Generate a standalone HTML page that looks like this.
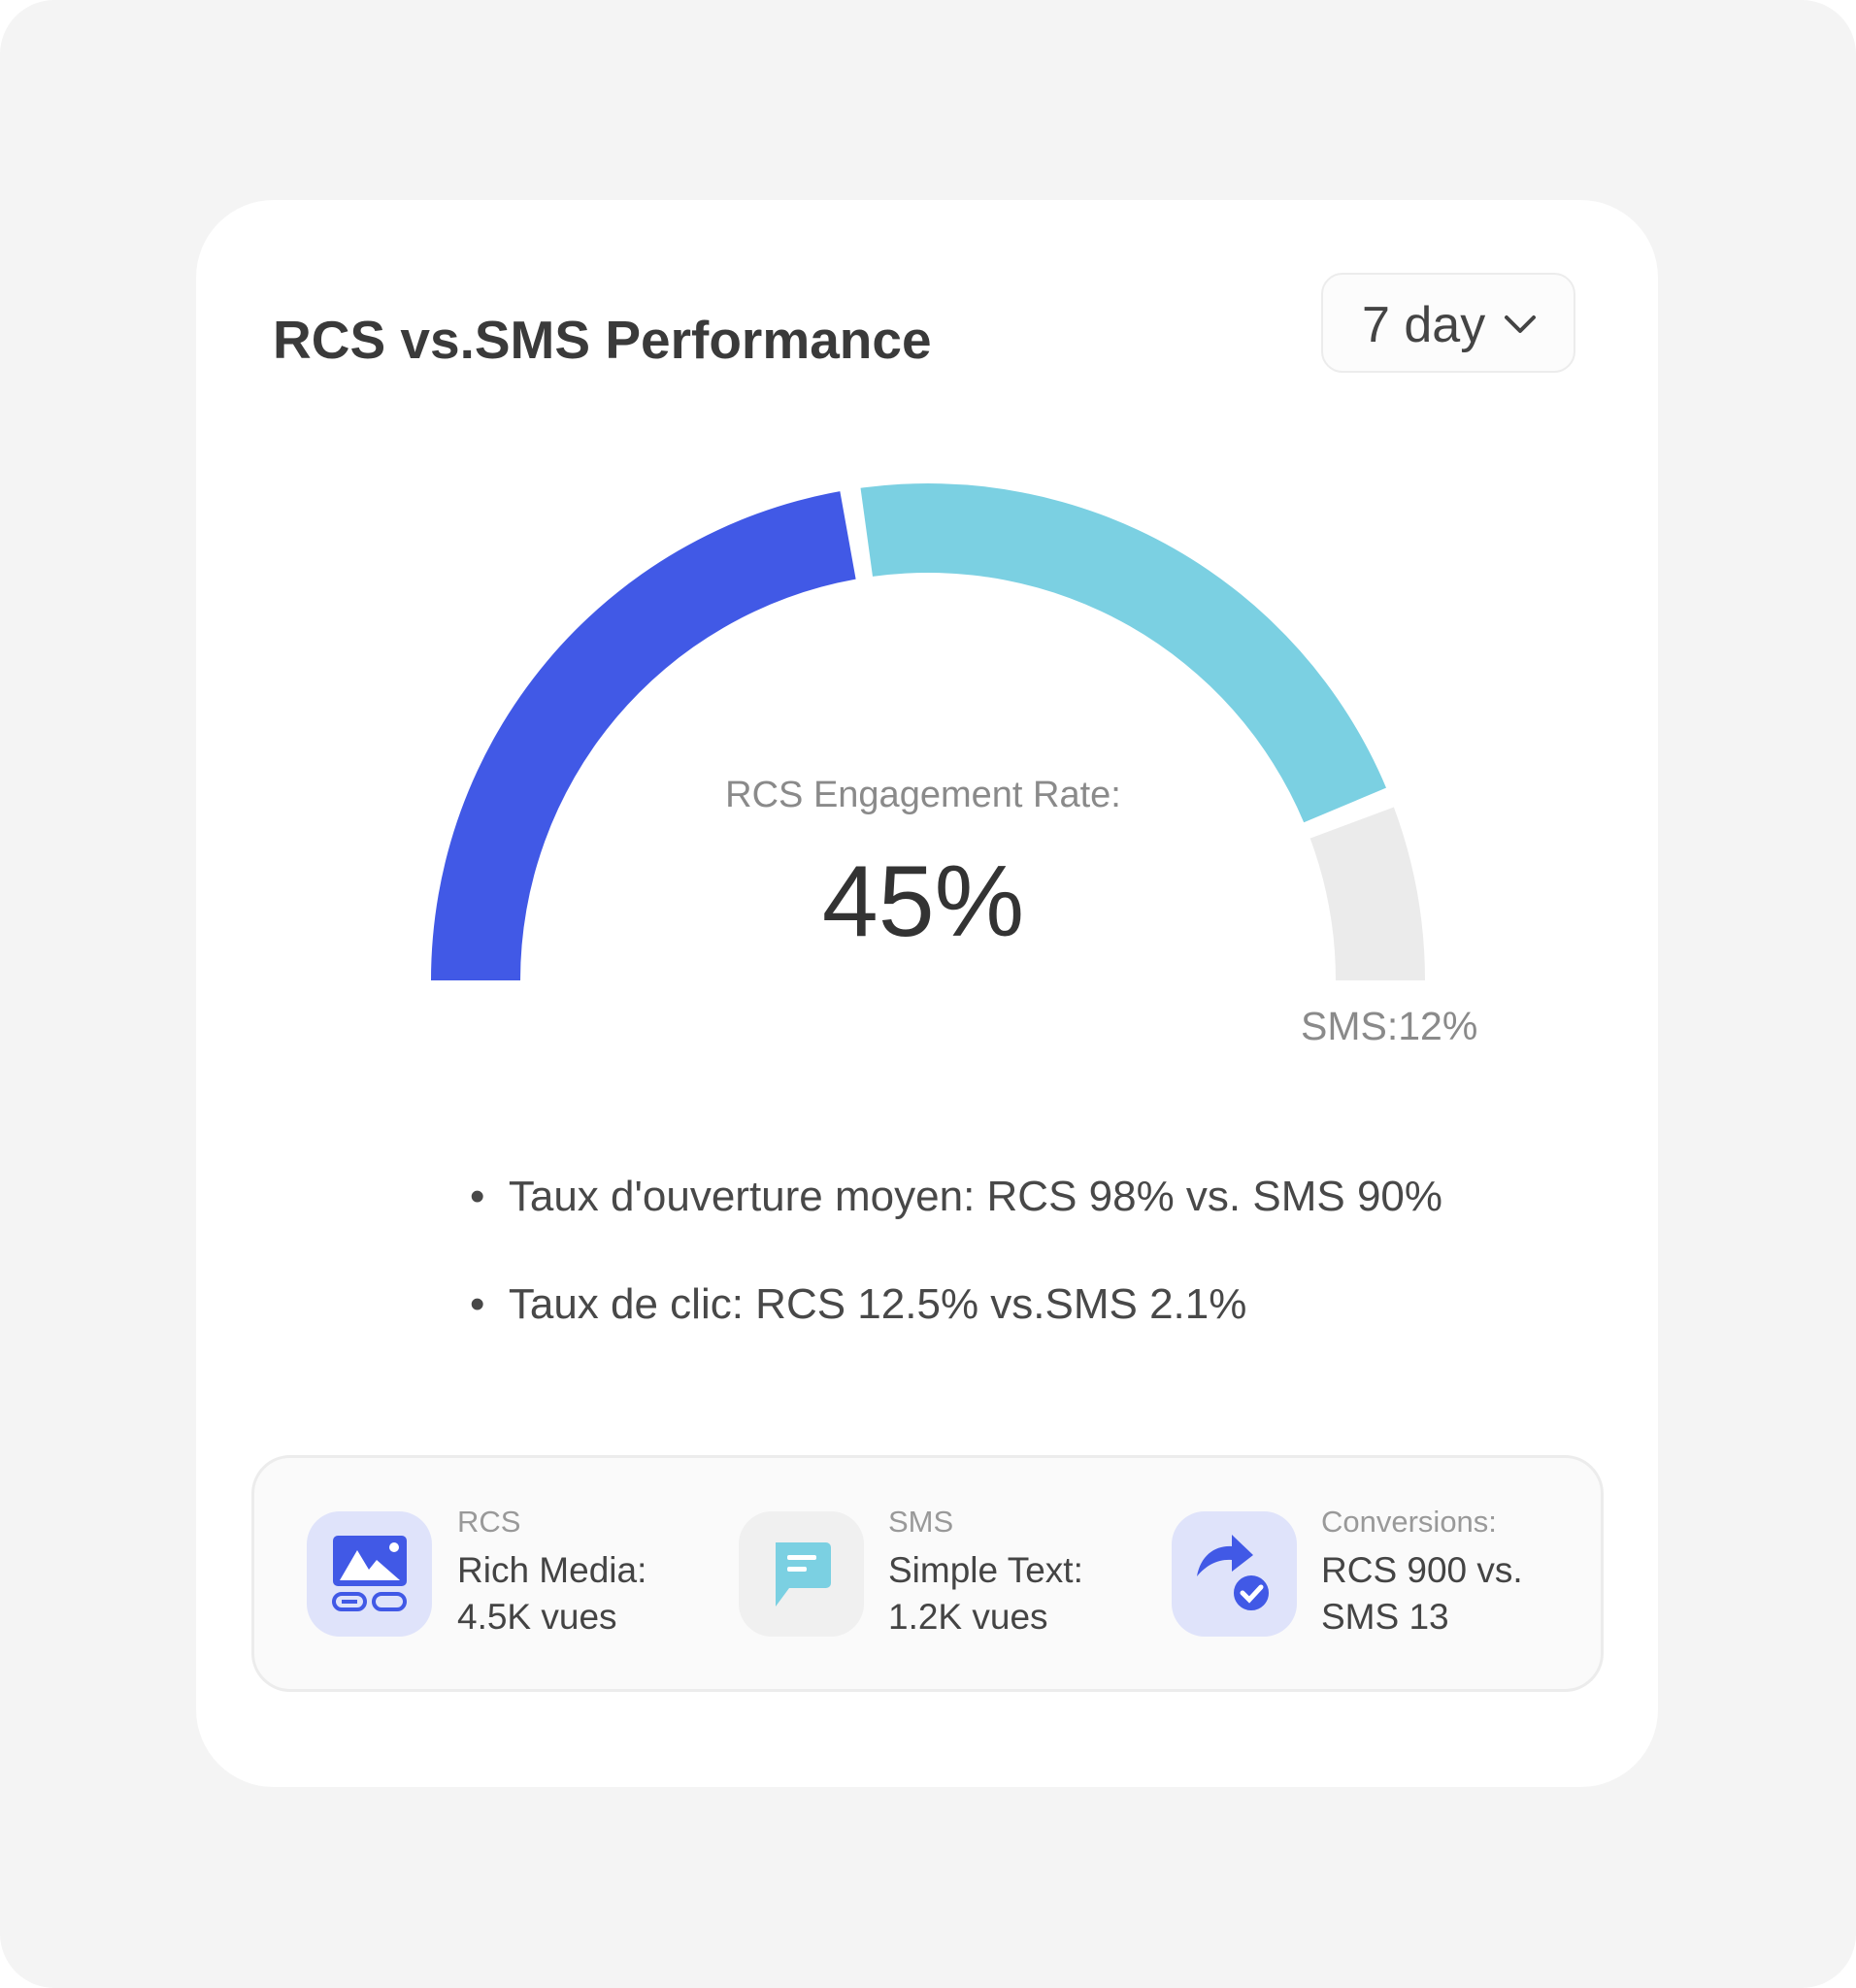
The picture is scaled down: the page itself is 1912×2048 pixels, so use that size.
<!DOCTYPE html>
<html><head><meta charset="utf-8"><style>
html,body{margin:0;padding:0;background:#fff;}
body{width:1912px;height:2048px;position:relative;overflow:hidden;font-family:"Liberation Sans",sans-serif;}
.bg{position:absolute;left:0;top:0;width:1912px;height:2048px;background:#f4f4f4;border-radius:56px;}
.card{position:absolute;left:202px;top:206px;width:1506px;height:1635px;background:#fff;border-radius:80px;}
.abs{position:absolute;white-space:nowrap;}
.title{left:281px;top:318px;font-size:55px;font-weight:bold;color:#3a3a3a;}
.dd{left:1361px;top:281px;width:262px;height:103px;box-sizing:border-box;border:2px solid #ececec;border-radius:22px;background:#fcfcfc;}
.dd span{position:absolute;left:40px;top:22px;font-size:52px;color:#444;}
.bul{font-size:44px;color:#484848;}
.panel{left:259px;top:1499px;width:1393px;height:244px;box-sizing:border-box;border:3px solid #ececec;border-radius:40px;background:#fafafa;}
.ic{position:absolute;width:129px;height:129px;border-radius:34px;}
.lab{font-size:31px;color:#999;}
.val{font-size:37px;color:#444;line-height:48px;}
</style></head><body>
<div class="bg"></div>
<div class="card"></div>
<div class="abs title">RCS vs.SMS Performance</div>
<div class="abs dd"><span>7 day</span>
<svg style="position:absolute;left:186px;top:40px" width="34" height="24" viewBox="0 0 34 24"><path d="M3 4 L17 18 L31 4" fill="none" stroke="#444" stroke-width="4" stroke-linecap="round" stroke-linejoin="round"/></svg></div>
<svg id="gauge" class="abs" style="left:0;top:0" width="1912" height="1200"></svg>
<div class="abs" style="left:0;width:1902px;text-align:center;top:798px;font-size:38px;color:#8a8a8a">RCS Engagement Rate:</div>
<div class="abs" style="left:0;width:1902px;text-align:center;top:870px;font-size:104px;color:#333">45%</div>
<div class="abs" style="left:1340px;top:1034px;font-size:41px;color:#8a8a8a">SMS:12%</div>
<div class="abs bul" style="left:484px;top:1208px">•&nbsp;&nbsp;Taux d'ouverture moyen: RCS 98% vs. SMS 90%</div>
<div class="abs bul" style="left:484px;top:1319px">•&nbsp;&nbsp;Taux de clic: RCS 12.5% vs.SMS 2.1%</div>
<div class="abs panel"></div>
<div class="ic" style="left:316px;top:1557px;background:#dfe3fa">
<svg width="129" height="129" viewBox="0 0 129 129"><rect x="27" y="25" width="76" height="52" rx="5" fill="#4159e6"/><path d="M34 71 L52 40 L64 60 L72 50 L96 71Z" fill="#fff"/><circle cx="90" cy="37" r="5" fill="#fff"/><rect x="28" y="85" width="32" height="16" rx="8" fill="none" stroke="#4159e6" stroke-width="4"/><rect x="36" y="91" width="16" height="4" fill="#4159e6"/><rect x="69" y="85" width="32" height="16" rx="8" fill="none" stroke="#4159e6" stroke-width="4"/></svg></div>
<div class="abs lab" style="left:471px;top:1550px">RCS</div>
<div class="abs val" style="left:471px;top:1594px">Rich Media:<br>4.5K vues</div>
<div class="ic" style="left:761px;top:1557px;background:#f0f0f0">
<svg width="129" height="129" viewBox="0 0 129 129"><path d="M38 32 H90 a5 5 0 0 1 5 5 V74 a5 5 0 0 1 -5 5 H52 L38 98Z" fill="#7bd0e2"/><rect x="50" y="45" width="30" height="5" rx="2" fill="#fff"/><rect x="50" y="57" width="20" height="5" rx="2" fill="#fff"/></svg></div>
<div class="abs lab" style="left:915px;top:1550px">SMS</div>
<div class="abs val" style="left:915px;top:1594px">Simple Text:<br>1.2K vues</div>
<div class="ic" style="left:1207px;top:1557px;background:#dfe3fa">
<svg width="129" height="129" viewBox="0 0 129 129"><path d="M26 67 C30 45 45 35 62 36 V24 L84 45 L62 62 V50 C48 49 36 55 26 67Z" fill="#4159e6"/><circle cx="82" cy="84" r="20" fill="#4159e6" stroke="#dfe3fa" stroke-width="4"/><path d="M73 84 L80 91 L92 78" fill="none" stroke="#fff" stroke-width="5" stroke-linecap="round"/></svg></div>
<div class="abs lab" style="left:1361px;top:1550px">Conversions:</div>
<div class="abs val" style="left:1361px;top:1594px">RCS 900 vs.<br>SMS 13</div>
<script>
const segNames=["rcs","other","sms"];
const segValues=[45,43,12];
const segColors=["#4159e6","#7bd0e2","#ebebeb"];
const cx=956,cy=1010,ro=512,ri=420,gap=1.2;
const svg=document.getElementById('gauge');
const total=segValues.reduce((a,b)=>a+b,0);
function pt(r,deg){const a=deg*Math.PI/180;return [cx+r*Math.cos(a),cy-r*Math.sin(a)];}
let start=180;
segValues.forEach((v,i)=>{
  const span=v/total*180;
  let a0=start,a1=start-span;
  if(i>0)a0-=gap; if(i<segValues.length-1)a1+=gap;
  const p0=pt(ro,a0),p1=pt(ro,a1),p2=pt(ri,a1),p3=pt(ri,a0);
  const large=(a0-a1)>180?1:0;
  const d=`M${p0} A${ro} ${ro} 0 ${large} 1 ${p1} L${p2} A${ri} ${ri} 0 ${large} 0 ${p3}Z`;
  const p=document.createElementNS('http://www.w3.org/2000/svg','path');
  p.setAttribute('d',d);p.setAttribute('fill',segColors[i]);
  
  
  svg.appendChild(p);
  start-=span;
});
</script>
</body></html>
